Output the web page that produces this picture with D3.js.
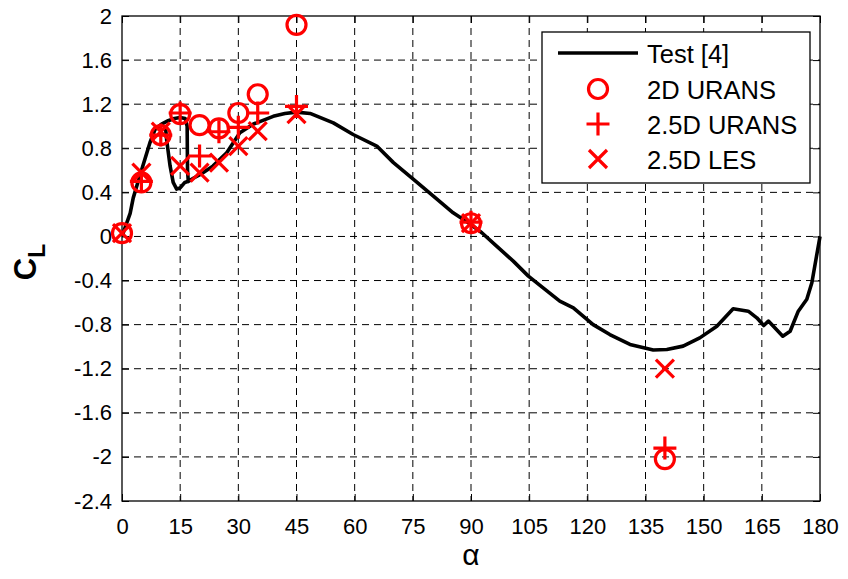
<!DOCTYPE html>
<html><head><meta charset="utf-8">
<script src="https://cdn.jsdelivr.net/npm/d3@7"></script>
<style>body{margin:0;background:#fff}svg{display:block}text{font-family:"Liberation Sans",Arial,Helvetica,sans-serif}</style>
</head><body><svg id="c" width="848" height="579"></svg>
<script>
// ---- data ----
const xTicks = [0,15,30,45,60,75,90,105,120,135,150,165,180];
const yTicks = [-2.4,-2,-1.6,-1.2,-0.8,-0.4,0,0.4,0.8,1.2,1.6,2];
const yTickLabels = ["-2.4","-2","-1.6","-1.2","-0.8","-0.4","0","0.4","0.8","1.2","1.6","2"];

// Test [4] main path
const testAlpha = [0,1,2.1,2.9,4.6,5.9,7.2,8.5,10.2,11.9,13.5,15,16.3,16.8,16.9,17.1,18.5,20.1,23.5,27,28.7,30.4,33.9,39,42,45,48.5,54.5,59.6,65.7,70,75.1,80.3,85.4,89.5,92.8,96.6,100.9,104.8,108.6,112.9,116.4,121.5,125.8,131,137,140.5,144.7,149,153.4,157.6,161.5,163.7,165.5,166.7,168.4,170.4,172.3,174.4,176.6,177.9,179.1,180];
const testCL    = [0,0.1,0.21,0.35,0.55,0.70,0.85,0.97,1.02,1.05,1.07,1.08,1.07,1.0,0.6,0.50,0.53,0.56,0.64,0.76,0.85,0.94,1.02,1.09,1.115,1.128,1.116,1.03,0.925,0.82,0.67,0.52,0.366,0.215,0.12,0.034,-0.088,-0.224,-0.36,-0.466,-0.587,-0.647,-0.80,-0.89,-0.98,-1.03,-1.025,-0.995,-0.92,-0.814,-0.656,-0.678,-0.738,-0.808,-0.768,-0.83,-0.905,-0.86,-0.678,-0.57,-0.42,-0.18,0];
// Test [4] hysteresis return branch
const loopAlpha = [11.2,11.5,12.4,13.2,14.1,15,16.2,17.1];
const loopCL    = [1.0,0.88,0.64,0.49,0.43,0.44,0.49,0.50];

const ransAlpha = [0,5,10,15,20,25,30,35,45,90,140];
const rans2D    = [0.03,0.49,0.92,1.11,1.01,0.98,1.12,1.29,1.92,0.12,-2.02];
const urans25Alpha = [5,10,15,20,25,30,35,45,90,140];
const urans25D  = [0.5,0.92,1.12,0.73,0.95,0.99,1.12,1.18,0.13,-1.92];
const lesAlpha  = [0,5,10,15,20,25,30,35,45,90,140];
const les25D    = [0.03,0.58,0.95,0.64,0.58,0.67,0.82,0.955,1.11,0.12,-1.2];

const legendLabels = ["Test [4]","2D URANS","2.5D URANS","2.5D LES"];

// ---- chart ----
const svg = d3.select("#c");
const L=122, R=820, T=16, B=501;
const x = d3.scaleLinear().domain([0,180]).range([L,R]);
const y = d3.scaleLinear().domain([-2.4,2]).range([B,T]);
const red = "#ff0000";

// grid
const g = svg.append("g");
g.selectAll(".gx").data(xTicks.slice(1,-1)).enter().append("line")
 .attr("x1",d=>x(d)).attr("x2",d=>x(d)).attr("y1",T).attr("y2",B)
 .attr("stroke","#000").attr("stroke-width",1).attr("stroke-dasharray","7,5");
g.selectAll(".gy").data(yTicks.slice(1,-1)).enter().append("line")
 .attr("y1",d=>y(d)).attr("y2",d=>y(d)).attr("x1",L).attr("x2",R)
 .attr("stroke","#000").attr("stroke-width",1).attr("stroke-dasharray","7,5");

// axes
const fmtY = d => yTickLabels[yTicks.indexOf(d)];
const ax = svg.append("g").attr("transform",`translate(0,${B})`)
 .call(d3.axisBottom(x).tickValues(xTicks).tickSizeInner(-7).tickSizeOuter(0).tickPadding(17));
const ay = svg.append("g").attr("transform",`translate(${L},0)`)
 .call(d3.axisLeft(y).tickValues(yTicks).tickFormat(fmtY).tickSizeInner(-7).tickSizeOuter(0).tickPadding(10));
const axT = svg.append("g").attr("transform",`translate(0,${T})`)
 .call(d3.axisTop(x).tickValues(xTicks).tickSizeInner(-7).tickSizeOuter(0).tickFormat(""));
const ayR = svg.append("g").attr("transform",`translate(${R},0)`)
 .call(d3.axisRight(y).tickValues(yTicks).tickSizeInner(-7).tickSizeOuter(0).tickFormat(""));
[ax,ay,axT,ayR].forEach(a=>{a.select(".domain").remove();a.selectAll("line").attr("stroke","#000");
  a.selectAll("text").attr("font-size",22).attr("fill","#000").style("font-family",'"Liberation Sans",Arial,sans-serif');});
svg.append("rect").attr("x",L).attr("y",T).attr("width",R-L).attr("height",B-T)
 .attr("fill","none").attr("stroke","#000").attr("stroke-width",1.3);

// test line
const line = d3.line().x(d=>x(d[0])).y(d=>y(d[1]));
svg.append("path").datum(d3.zip(testAlpha,testCL)).attr("d",line)
 .attr("fill","none").attr("stroke","#000").attr("stroke-width",3.6).attr("stroke-linejoin","round");
svg.append("path").datum(d3.zip(loopAlpha,loopCL)).attr("d",line)
 .attr("fill","none").attr("stroke","#000").attr("stroke-width",3.6).attr("stroke-linejoin","round");

// markers
function circ(sel,cx,cy){sel.append("circle").attr("cx",cx).attr("cy",cy).attr("r",9.5)
  .attr("fill","none").attr("stroke",red).attr("stroke-width",3.2);}
function plus(sel,cx,cy){sel.append("path").attr("d",`M${cx-11.5},${cy}H${cx+11.5}M${cx},${cy-11.5}V${cy+11.5}`)
  .attr("stroke",red).attr("stroke-width",3.2).attr("fill","none");}
function cross(sel,cx,cy){const s=9;sel.append("path").attr("d",`M${cx-s},${cy-s}L${cx+s},${cy+s}M${cx-s},${cy+s}L${cx+s},${cy-s}`)
  .attr("stroke",red).attr("stroke-width",3.2).attr("fill","none");}
const m = svg.append("g");
ransAlpha.forEach((a,i)=>circ(m,x(a),y(rans2D[i])));
urans25Alpha.forEach((a,i)=>plus(m,x(a),y(urans25D[i])));
lesAlpha.forEach((a,i)=>cross(m,x(a),y(les25D[i])));

// legend
const lg = svg.append("g");
lg.append("rect").attr("x",542).attr("y",32).attr("width",268).attr("height",151)
 .attr("fill","#fff").attr("stroke","#000").attr("stroke-width",1.3);
const rowsY=[53,89,124,159];
lg.append("line").attr("x1",558).attr("x2",638).attr("y1",rowsY[0]).attr("y2",rowsY[0]).attr("stroke","#000").attr("stroke-width",3.6);
circ(lg,598,rowsY[1]); plus(lg,598,rowsY[2]); cross(lg,598,rowsY[3]);
lg.selectAll("text").data(legendLabels).enter().append("text")
 .attr("x",647).attr("y",(d,i)=>rowsY[i]+10).attr("font-size",25.5).text(d=>d);

// axis labels
svg.append("text").attr("x",x(90)).attr("y",565).attr("text-anchor","middle").attr("font-size",30).text("α");
const yl = svg.append("text").attr("transform","translate(36,262) rotate(-90)")
 .attr("text-anchor","middle").attr("font-weight","bold");
yl.append("tspan").attr("font-size",31).text("C");
yl.append("tspan").attr("font-size",23).attr("dy",9).text("L");
</script></body></html>
